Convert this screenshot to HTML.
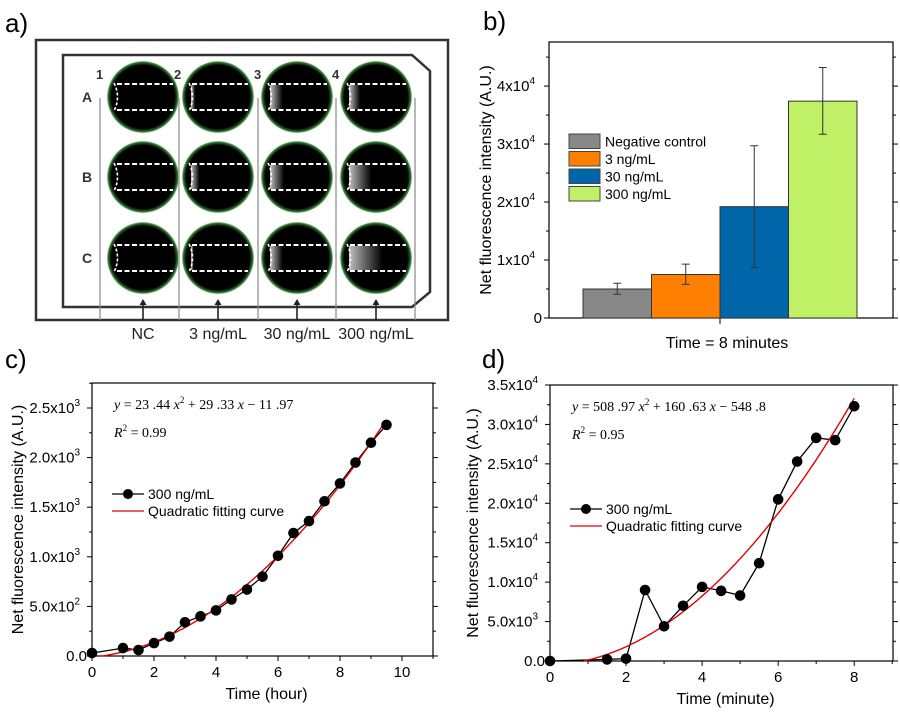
<!DOCTYPE html>
<html><head><meta charset="utf-8">
<style>
html,body{margin:0;padding:0;background:#fff;}
svg{display:block;font-family:"Liberation Sans",sans-serif;}
</style></head>
<body>
<svg id="fig" width="900" height="715" viewBox="0 0 900 715" xmlns="http://www.w3.org/2000/svg">
<defs>
<radialGradient id="wellg" cx="50%" cy="50%" r="50%">
<stop offset="88%" stop-color="#000"/><stop offset="96%" stop-color="#2a6a2a"/><stop offset="100%" stop-color="#9fd89f"/>
</radialGradient>
<linearGradient id="glow" x1="0" x2="1"><stop offset="0" stop-color="#fff" stop-opacity="0.75"/><stop offset="1" stop-color="#fff" stop-opacity="0"/></linearGradient>
</defs>
<g id="panelA"></g>
<g id="panelB"></g>
<g id="panelC"></g>
<g id="panelD"></g>
</svg>
<script>
// ---------- Panel b data ----------
const bCategories = ["Negative control","3 ng/mL","30 ng/mL","300 ng/mL"];
const bValues = [5000, 7500, 19200, 37400];
const bErrLow = [4100, 5800, 8700, 31700];
const bErrHigh = [6000, 9300, 29700, 43200];
const bColors = ["#888888","#ff8000","#0066aa","#bff066"];
const bTickLabels = ["0","1x10","2x10","3x10","4x10"];
// ---------- Panel c data ----------
const cX = [0,1,1.5,2,2.5,3,3.5,4,4.5,5,5.5,6,6.5,7,7.5,8,8.5,9,9.5];
const cY = [30,80,60,130,195,340,400,460,570,670,800,1010,1240,1360,1560,1740,1950,2150,2330];
const cFit = [23.44, 29.33, -11.97];
const cXTicks = [0,2,4,6,8,10];
const cYTicks = ["0.0","5.0x10","1.0x10","1.5x10","2.0x10","2.5x10"];
// ---------- Panel d data ----------
const dX = [0,1.5,2,2.5,3,3.5,4,4.5,5,5.5,6,6.5,7,7.5,8];
const dY = [0,200,300,9000,4400,7000,9400,8900,8300,12400,20500,25300,28300,28000,32300];
const dFit = [508.97, 160.63, -548.8];
const dXTicks = [0,2,4,6,8];
const dYTicks = ["0.0","5.0x10","1.0x10","1.5x10","2.0x10","2.5x10","3.0x10","3.5x10"];

const NS="http://www.w3.org/2000/svg";
function mk(parent,tag,attrs,text){const e=document.createElementNS(NS,tag);for(const k in attrs)e.setAttribute(k,attrs[k]);if(text!==undefined)e.textContent=text;parent.appendChild(e);return e;}
const fig=document.getElementById('fig');

[["a)",5,32],["b)",483,30],["c)",5,368],["d)",482,368]].forEach(p=>{
 const t=mk(fig,'text',{x:p[1],y:p[2],'font-size':26,fill:'#000'},p[0]);
 
 
});

// ---------- Panel a ----------
(function(){
 const g=document.getElementById('panelA');
 const o=mk(g,'rect',{x:36,y:40,width:412,height:280,fill:'none',stroke:'#333','stroke-width':2.5});
 
 const inner=mk(g,'path',{d:'M63 55 L412 55 L430 71 L430 292 L412 307 L63 307 Z',fill:'none',stroke:'#333','stroke-width':2.5});
 
 [100,179,258,336,415].forEach(x=>{const l=mk(g,'line',{x1:x,y1:98,x2:x,y2:320,stroke:'#888','stroke-width':1.2});});
 const cxs=[143,218,297,376], cys=[97,177,258];
 const glowW=[[0,0,0],[3,6,2],[9,10,9],[8,16,24]];
 cys.forEach((cy,r)=>cxs.forEach((cx,c)=>{
  const w=mk(g,'circle',{cx:cx,cy:cy,r:36,fill:'url(#wellg)'});
  
  const gw=glowW[c][r];
  if(gw>0){mk(g,'rect',{x:cx-27,y:cy-12,width:gw*1.4,height:24,fill:'url(#glow)'});}
  mk(g,'path',{d:`M${cx-26} ${cy-13} L${cx+30} ${cy-13} M${cx-26} ${cy+13} L${cx+30} ${cy+13}`,stroke:'#fff','stroke-width':2,'stroke-dasharray':'5 2.5',fill:'none'});
  mk(g,'path',{d:`M${cx-29} ${cy-14} Q${cx-22} ${cy} ${cx-29} ${cy+14}`,stroke:'#fff','stroke-width':1.6,'stroke-dasharray':'3 2',fill:'none'});
 }));
 ["1","2","3","4"].forEach((s,i)=>{const t=mk(g,'text',{x:[96,174,254,332][i],y:79,'font-size':13,'font-weight':'bold',fill:'#333'},s);});
 ["A","B","C"].forEach((s,i)=>{const t=mk(g,'text',{x:82,y:cys[i]+5,'font-size':14,'font-weight':'bold',fill:'#333'},s);});
 const labs=["NC","3 ng/mL","30 ng/mL","300 ng/mL"];
 cxs.forEach((cx,i)=>{
  mk(g,'line',{x1:cx,y1:320,x2:cx,y2:303,stroke:'#222','stroke-width':1.6});
  mk(g,'path',{d:`M${cx-3.5} ${305} L${cx} ${299} L${cx+3.5} ${305} Z`,fill:'#222'});
  const t=mk(g,'text',{x:cx,y:339,'font-size':16,'text-anchor':'middle',fill:'#222'},labs[i]);
  
 });
})();

function frame(g,L,T,R,B){
 const f=mk(g,'rect',{x:L,y:T,width:R-L,height:B-T,fill:'none',stroke:'#000','stroke-width':1.2});
 
}
function sup(t,s){return mk(t,'tspan',{dy:-7,'font-size':10},s);}

// ---------- Panel b ----------
(function(){
 const g=document.getElementById('panelB');
 const L=549,T=42,R=893,B=318, yMax=47600;
 const ys=v=>B-v/yMax*(B-T);
 const x0=583,bw=68.5;
 frame(g,L,T,R,B);
 for(let v=0;v<=45000;v+=5000){const major=v%10000===0;const len=major?5:3;
  mk(g,'line',{x1:L-len,y1:ys(v),x2:L,y2:ys(v),stroke:'#000'});
  mk(g,'line',{x1:R,y1:ys(v),x2:R+len,y2:ys(v),stroke:'#000'});
 }
 bTickLabels.forEach((s,i)=>{const v=i*10000;
  const t=mk(g,'text',{x:L-7,y:ys(v)+5,'font-size':15,'text-anchor':'end',fill:'#000'},s);
  if(i>0){t.setAttribute('x',L-14);sup(t,'4');}
  
 });
 mk(g,'line',{x1:720,y1:B,x2:720,y2:B+6,stroke:'#000'});
 bValues.forEach((v,i)=>{
  const r=mk(g,'rect',{x:x0+i*bw,y:ys(v),width:bw,height:B-ys(v),fill:bColors[i],stroke:'#333','stroke-width':1});
  
  
  const cx=x0+i*bw+bw/2;
  const e=mk(g,'path',{d:`M${cx} ${ys(bErrLow[i])} L${cx} ${ys(bErrHigh[i])} M${cx-4} ${ys(bErrLow[i])} L${cx+4} ${ys(bErrLow[i])} M${cx-4} ${ys(bErrHigh[i])} L${cx+4} ${ys(bErrHigh[i])}`,stroke:'#333','stroke-width':1,fill:'none'});
  
 });
 bCategories.forEach((c,i)=>{
  const y=134+i*17.5;
  const r=mk(g,'rect',{x:569,y:y,width:31,height:14.5,fill:bColors[i],stroke:'#444'});
  
  const t=mk(g,'text',{x:605,y:y+12.5,'font-size':14,fill:'#000'},c);
  
 });
 const yt=mk(g,'text',{x:0,y:0,'font-size':16,'text-anchor':'middle',fill:'#000',transform:`translate(491,180) rotate(-90)`},'Net fluorescence intensity (A.U.)');
 
 const xt=mk(g,'text',{x:727,y:348,'font-size':16,'text-anchor':'middle',fill:'#000'},'Time = 8 minutes');
 
})();

function lineChart(g,o){
 const {L,T,R,B,xMax,yMax,X,Y,fit,xTicks,yTickLabels,yStep,exps,xTitle,eq,r2,titleX,legY,fitFrom,fitTo}=o;
 const xs=v=>L+v/xMax*(R-L), ys=v=>B-v/yMax*(B-T);
 frame(g,L,T,R,B);
 for(let v=0;v<=yMax+1e-6;v+=yStep/2){const major=Math.abs(v/yStep-Math.round(v/yStep))<1e-6;const len=major?5:3;
  mk(g,'line',{x1:L-len,y1:ys(v),x2:L,y2:ys(v),stroke:'#000'});
  mk(g,'line',{x1:R,y1:ys(v),x2:R+len,y2:ys(v),stroke:'#000'});
 }
 for(let v=0;v<=xMax+1e-6;v+=1){const major=v%2===0;const len=major?5:3;
  mk(g,'line',{x1:xs(v),y1:B,x2:xs(v),y2:B+len,stroke:'#000'});
 }
 yTickLabels.forEach((s,i)=>{const v=i*yStep;
  const t=mk(g,'text',{x:L-5,y:ys(v)+5,'font-size':15,'text-anchor':'end',fill:'#000'},s);
  if(i>0){t.setAttribute('x',L-12);sup(t,String(exps[i]));}
  
 });
 xTicks.forEach(v=>{const t=mk(g,'text',{x:xs(v),y:B+21,'font-size':15,'text-anchor':'middle',fill:'#000'},String(v));
  });
 let d='';const n=120;
 for(let k=0;k<=n;k++){const x=fitFrom+(fitTo-fitFrom)*k/n;const y=fit[0]*x*x+fit[1]*x+fit[2];d+=(k?'L':'M')+xs(x).toFixed(1)+' '+ys(Math.max(y,0)).toFixed(1);}
 let dd='';X.forEach((x,i)=>{dd+=(i?'L':'M')+xs(x).toFixed(1)+' '+ys(Y[i]).toFixed(1);});
 const dl=mk(g,'path',{d:dd,fill:'none',stroke:'#000','stroke-width':1.3});
 
 const fl=mk(g,'path',{d:d,fill:'none',stroke:'#e00000','stroke-width':1.4});
 
 X.forEach((x,i)=>{const c=mk(g,'circle',{cx:xs(x),cy:ys(Y[i]),r:5.3,fill:'#000'});
  });
 mk(g,'line',{x1:L+20,y1:legY,x2:L+52,y2:legY,stroke:'#000','stroke-width':1.3});
 mk(g,'circle',{cx:L+36,cy:legY,r:5,fill:'#000'});
 const l1=mk(g,'text',{x:L+56,y:legY+5,'font-size':14,fill:'#000'},'300 ng/mL');
 
 mk(g,'line',{x1:L+20,y1:legY+17,x2:L+52,y2:legY+17,stroke:'#e00000','stroke-width':1.3});
 const l2=mk(g,'text',{x:L+56,y:legY+22,'font-size':14,fill:'#000'},'Quadratic fitting curve');
 
 const e=mk(g,'text',{x:L+22,y:T+26,'font-size':14,'font-family':'"Liberation Serif",serif',fill:'#000'});
 
 mk(e,'tspan',{'font-style':'italic'},'y');mk(e,'tspan',{},' = '+eq[0]+' ');mk(e,'tspan',{'font-style':'italic'},'x');
 mk(e,'tspan',{dy:-6,'font-size':9},'2');mk(e,'tspan',{dy:6},' + '+eq[1]+' ');mk(e,'tspan',{'font-style':'italic'},'x');mk(e,'tspan',{},' \u2212 '+eq[2]);
 const r=mk(g,'text',{x:L+22,y:T+54,'font-size':14,'font-family':'"Liberation Serif",serif',fill:'#000'});
 
 mk(r,'tspan',{'font-style':'italic'},'R');mk(r,'tspan',{dy:-6,'font-size':9},'2');mk(r,'tspan',{dy:6},' = '+r2);
 const xt=mk(g,'text',{x:(L+R)/2+4,y:B+43,'font-size':16,'text-anchor':'middle',fill:'#000'},xTitle);
 
 const yt=mk(g,'text',{x:0,y:0,'font-size':16,'text-anchor':'middle',fill:'#000',transform:`translate(${titleX},${(T+B)/2}) rotate(-90)`},'Net fluorescence intensity (A.U.)');
 
}
lineChart(document.getElementById('panelC'),{L:92,T:383,R:433,B:656,xMax:11,yMax:2752,X:cX,Y:cY,fit:cFit,xTicks:cXTicks,yTickLabels:cYTicks,yStep:500,exps:[0,2,3,3,3,3],xTitle:'Time (hour)',eq:['23 .44','29 .33','11 .97'],r2:'0.99',titleX:23,legY:494,fitFrom:0.3,fitTo:9.5});
lineChart(document.getElementById('panelD'),{L:550,T:385,R:893,B:661,xMax:9.02,yMax:35000,X:dX,Y:dY,fit:dFit,xTicks:dXTicks,yTickLabels:dYTicks,yStep:5000,exps:[0,3,4,4,4,4,4,4],xTitle:'Time (minute)',eq:['508 .97','160 .63','548 .8'],r2:'0.95',titleX:478,legY:509,fitFrom:0.88,fitTo:8});
</script>
</body></html>
